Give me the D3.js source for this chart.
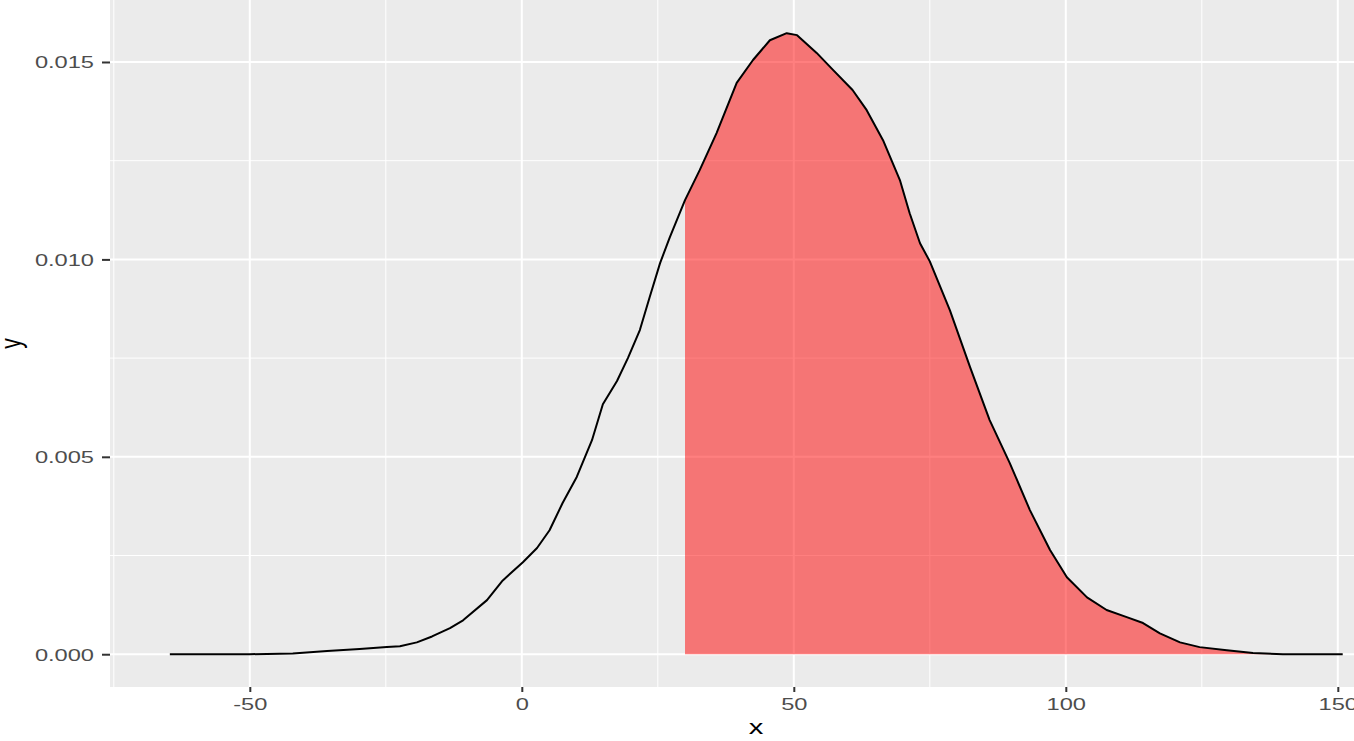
<!DOCTYPE html>
<html>
<head>
<meta charset="utf-8">
<script src="https://cdn.jsdelivr.net/npm/d3@7"></script>
<style>
  body { margin: 0; background: #fff; }
  svg { display: block; font-family: "Liberation Sans", Arial, sans-serif; }
</style>
</head>
<body>
<script>
// density curve
var xVals = [-64.7, -50, -42.1, -35.8, -29.8, -24.8, -22.4, -19.3, -16.5, -14.5, -13.2, -10.8,
  -6.4, -3.5, 0.2, 2.8, 5.1, 7.5, 10.1, 12.9, 14.9, 17.5, 19.5, 21.7, 23.5, 25.4, 27.2,
  30.0, 32.7, 35.8, 39.5, 42.5, 45.6, 48.7, 50.6, 54.2, 57.2, 60.8, 63.4, 66.4, 69.5,
  71.3, 73.2, 75.0, 78.7, 82.4, 86.0, 89.7, 93.4, 97.1, 100.2, 103.9, 107.5, 111.2,
  114.2, 117.3, 121.0, 124.6, 129.6, 134.4, 139.9, 150.9];
var yVals = [0, 0, 0.00002, 0.00008, 0.00013, 0.00018, 0.0002, 0.0003, 0.00045, 0.00058, 0.00066, 0.00086,
  0.00137, 0.00187, 0.00233, 0.00269, 0.00314, 0.00383, 0.00449, 0.00542, 0.00633, 0.00692, 0.0075, 0.00821, 0.00904, 0.0099, 0.01056,
  0.0115, 0.01226, 0.0132, 0.01447, 0.01505, 0.01555, 0.01573, 0.01568, 0.01523, 0.0148, 0.01429, 0.01378, 0.01302, 0.01201,
  0.01117, 0.01041, 0.00995, 0.00871, 0.00727, 0.00593, 0.00484, 0.00365, 0.00264, 0.00195, 0.00144, 0.00112, 0.00094,
  0.00079, 0.00053, 0.0003, 0.00018, 0.0001, 0.00003, 0, 0];

var fillFrom = 30;

var xMajor = [-50, 0, 50, 100, 150];
var xMinor = [-75, -25, 25, 75, 125];
var yMajor = [0, 0.005, 0.010, 0.015];
var yMinor = [0.0025, 0.0075, 0.0125];

var svgWidth = 1354;
var svgHeight = 741;

// panel box (the right side runs past the window)
var panel = { left: 110, top: 0, right: 1402, bottom: 687 };
var stretch = 1.39; // text in the picture is drawn wider than tall

var data = xVals.map(function(x, i) { return { x: x, y: yVals[i] }; });

var svg = d3.select("body")
  .append("svg")
  .attr("width", svgWidth)
  .attr("height", svgHeight);

var xScale = d3.scaleLinear()
  .domain([-75.7, 161.8])
  .range([panel.left, panel.right]);

var yScale = d3.scaleLinear()
  .domain([-0.00083, 0.01657])
  .range([panel.bottom, panel.top]);

// panel background
svg.append("rect")
  .attr("x", panel.left)
  .attr("y", panel.top)
  .attr("width", panel.right - panel.left)
  .attr("height", panel.bottom - panel.top)
  .attr("fill", "#EBEBEB");

var grid = svg.append("g");

// minor grid first, then major
grid.selectAll(".xminor").data(xMinor).enter().append("line")
  .attr("x1", d => xScale(d)).attr("x2", d => xScale(d))
  .attr("y1", panel.top).attr("y2", panel.bottom)
  .attr("stroke", "#fff").attr("stroke-width", 1);

grid.selectAll(".yminor").data(yMinor).enter().append("line")
  .attr("x1", panel.left).attr("x2", panel.right)
  .attr("y1", d => yScale(d)).attr("y2", d => yScale(d))
  .attr("stroke", "#fff").attr("stroke-width", 1);

grid.selectAll(".xmajor").data(xMajor).enter().append("line")
  .attr("x1", d => xScale(d)).attr("x2", d => xScale(d))
  .attr("y1", panel.top).attr("y2", panel.bottom)
  .attr("stroke", "#fff").attr("stroke-width", 2);

grid.selectAll(".ymajor").data(yMajor).enter().append("line")
  .attr("x1", panel.left).attr("x2", panel.right)
  .attr("y1", d => yScale(d)).attr("y2", d => yScale(d))
  .attr("stroke", "#fff").attr("stroke-width", 2);

// shaded region
var area = d3.area()
  .x(d => xScale(d.x))
  .y0(yScale(0))
  .y1(d => yScale(d.y));

svg.append("path")
  .datum(data.filter(d => d.x >= fillFrom))
  .attr("d", area)
  .attr("fill", "red")
  .attr("fill-opacity", 0.5);

// density line
var line = d3.line()
  .x(d => xScale(d.x))
  .y(d => yScale(d.y));

svg.append("path")
  .datum(data)
  .attr("d", line)
  .attr("fill", "none")
  .attr("stroke", "#000")
  .attr("stroke-width", 2)
  .attr("stroke-linejoin", "round");

// axes
var leftAxis = d3.axisLeft(yScale)
  .tickValues(yMajor)
  .tickSize(8)
  .tickFormat(d3.format(".3f"));

var bottomAxis = d3.axisBottom(xScale)
  .tickValues(xMajor)
  .tickSize(5)
  .tickFormat(d => String(d)); // plain hyphen like the picture

var yAxisG = svg.append("g")
  .attr("transform", `translate(${panel.left}, 0)`)
  .call(leftAxis);

var xAxisG = svg.append("g")
  .attr("transform", `translate(0, ${panel.bottom})`)
  .call(bottomAxis);

[yAxisG, xAxisG].forEach(function(g) {
  g.select(".domain").remove();
  g.selectAll(".tick line").attr("stroke", "#333333").attr("stroke-width", 2);
  g.selectAll(".tick text")
    .attr("fill", "#4D4D4D")
    .style("font-size", "17px");
});

yAxisG.selectAll(".tick text")
  .attr("x", 0)
  .attr("dy", "0.35em")
  .attr("transform", `translate(-16, 0) scale(${stretch}, 1)`);

xAxisG.selectAll(".tick text")
  .attr("y", 23)
  .attr("dy", 0)
  .attr("transform", `scale(${stretch}, 1)`);

// axis titles
svg.append("text")
  .attr("transform", `translate(756, 734) scale(${stretch}, 1)`)
  .attr("text-anchor", "middle")
  .attr("fill", "#000")
  .style("font-size", "21px")
  .text("x");

svg.append("text")
  .attr("transform", `translate(21, ${(panel.top + panel.bottom) / 2}) scale(${stretch}, 1) rotate(-90)`)
  .attr("text-anchor", "middle")
  .attr("fill", "#000")
  .style("font-size", "21px")
  .text("y");
</script>
</body>
</html>
